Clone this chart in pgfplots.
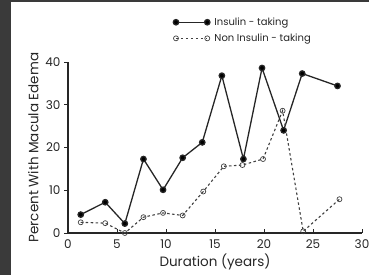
\documentclass[border=0pt]{standalone}
\usepackage{pgfplots}
\pgfplotsset{compat=1.18}
\usepackage{fontspec}
\setmainfont{Poppins}
\definecolor{frame}{HTML}{3A3A3A}
\begin{document}
\begin{tikzpicture}[x=1pt,y=1pt]
\path[use as bounding box] (0,0) rectangle (369,275);
\fill[frame] (0,0) rectangle (11,275);
\fill[frame] (0,273) rectangle (369,275);
\begin{axis}[
  at={(68pt,42pt)}, anchor=south west,
  scale only axis, width=294pt, height=171pt,
  xmin=0, xmax=30, ymin=0, ymax=40,
  axis lines=left, axis line style={-, line width=1.1pt, black!85},
  xtick={0,5,10,15,20,25,30}, ytick={0,10,20,30,40},
  tick style={black!85, line width=0.9pt},
  major tick length=4pt,
  tick align=outside,
  x tick style={yshift=4pt},
  /pgf/number format/assume math mode=true,
  ticklabel style={font=\fontsize{12}{14}\selectfont, text=black!85},
  xticklabel style={yshift=1pt},
  xlabel={Duration (years)}, ylabel={Percent With Macula Edema},
  label style={font=\fontsize{13.5}{15}\selectfont, text=black!85},
  xlabel style={yshift=1pt},
  ylabel style={yshift=0pt},
  clip=false,
  legend style={at={(0.354,1.275)}, anchor=north west, draw=none, fill=none,
    font=\fontsize{10}{12}\selectfont, row sep=4pt, column sep=3pt, inner sep=1pt,
    nodes={inner sep=1.5pt, text=black!85}},
  legend cell align=left,
  legend image code/.code={\draw[mark repeat=2,mark phase=1,#1] plot coordinates {(0cm,0cm) (0.55cm,0cm) (1.1cm,0cm)};},
]
\addplot[black!85, line width=1.3pt, mark=*, mark size=2.7pt, mark options={solid, fill=black}] coordinates {
(1.3,4.3) (3.8,7.2) (5.8,2.2) (7.7,17.3) (9.7,10.1) (11.7,17.6) (13.7,21.2) (15.7,36.8) (17.9,17.3) (19.8,38.6) (22.0,24.0) (23.9,37.3) (27.5,34.4)};
\addlegendentry{Insulin - taking}
\addplot[black!75, line width=1.1pt, dash pattern=on 2.5pt off 2.5pt, mark=o, mark size=2.5pt, mark options={solid, fill=white, line width=0.7pt}] coordinates {
(1.3,2.5) (3.8,2.3) (5.8,0) (7.7,3.7) (9.7,4.7) (11.7,4.1) (13.8,9.7) (15.9,15.6) (17.8,15.9) (19.9,17.3) (21.9,28.6) (24.0,0.4) (27.7,7.9)};
\addlegendentry{Non Insulin - taking}
\end{axis}
\end{tikzpicture}
\end{document}
